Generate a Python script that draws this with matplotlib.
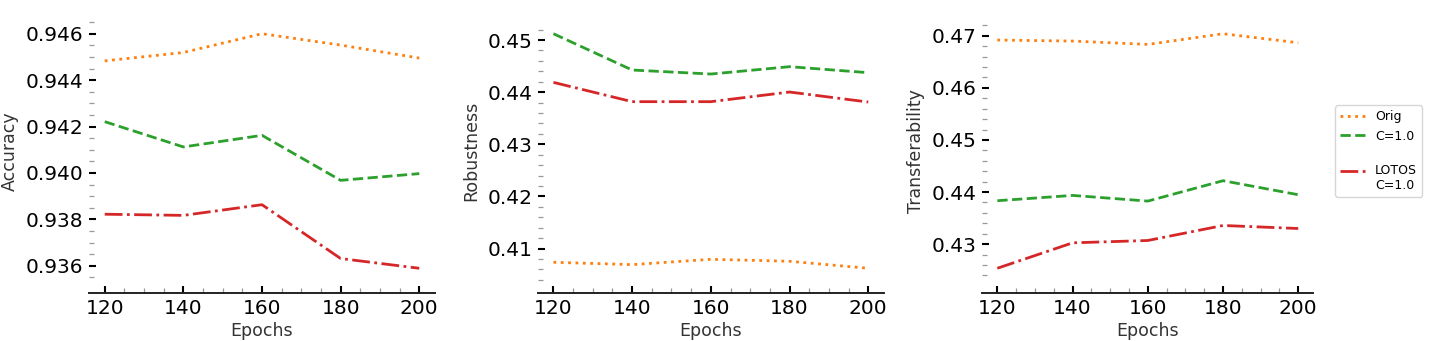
import matplotlib
matplotlib.use("Agg")
import matplotlib.pyplot as plt
from matplotlib.ticker import MultipleLocator, FormatStrFormatter

epochs = [120, 140, 160, 180, 200]

acc_orig = [0.94483, 0.94519, 0.94600, 0.94551, 0.94495]
acc_c = [0.94221, 0.94112, 0.94162, 0.93968, 0.93997]
acc_lotos = [0.93822, 0.93817, 0.93863, 0.93631, 0.93589]

rob_orig = [0.40738, 0.40693, 0.40795, 0.40757, 0.40623]
rob_c = [0.45121, 0.44425, 0.44348, 0.44489, 0.44374]
rob_lotos = [0.44188, 0.43818, 0.43818, 0.44003, 0.43811]

tra_orig = [0.46917, 0.46897, 0.46833, 0.47038, 0.46865]
tra_c = [0.43834, 0.43936, 0.43827, 0.44218, 0.43949]
tra_lotos = [0.42538, 0.43026, 0.43071, 0.43359, 0.43301]

labels = ["Orig", "C=1.0", "\nLOTOS\nC=1.0"]
ylabels = ["Accuracy", "Robustness", "Transferability"]
xlabel = "Epochs"

colors = ["#ff7f0e", "#2ca02c", "#d62728"]
styles = [":", "--", "-."]

W, H = 1436, 341
fig = plt.figure(figsize=(W / 100, H / 100), dpi=100)

# axes rectangles in pixels: left, right
rects = [(89, 435), (537.7, 884), (982.3, 1313.3)]
top_px, bot_px = 22, 280

panels = [
    (acc_orig, acc_c, acc_lotos, 0.002, 0.0005, "%.3f"),
    (rob_orig, rob_c, rob_lotos, 0.01, 0.002, "%.2f"),
    (tra_orig, tra_c, tra_lotos, 0.01, 0.002, "%.2f"),
]

axes = []
for i, ((l, r), (o, c, lo, maj, mnr, fmt)) in enumerate(zip(rects, panels)):
    ax = fig.add_axes([l / W, (H - bot_px) / H, (r - l) / W, (bot_px - top_px) / H])
    for series, col, ls, lab in zip([o, c, lo], colors, styles, labels):
        ax.plot(epochs, series, color=col, linestyle=ls, linewidth=2, label=lab)
    ax.set_facecolor("white")
    for s in ["top", "right", "left"]:
        ax.spines[s].set_visible(False)
    ax.spines["bottom"].set_position(("outward", 9.4))
    ax.spines["bottom"].set_linewidth(1.4)
    ax.spines["bottom"].set_color("#222222")
    ax.xaxis.set_major_locator(MultipleLocator(20))
    ax.xaxis.set_minor_locator(MultipleLocator(5))
    ax.yaxis.set_major_locator(MultipleLocator(maj))
    ax.yaxis.set_minor_locator(MultipleLocator(mnr))
    ax.yaxis.set_major_formatter(FormatStrFormatter(fmt))
    ax.tick_params(which="major", direction="in", length=5.3, width=1.5,
                   color="black", labelsize=14.5, labelcolor="black", pad=4)
    ax.tick_params(which="minor", direction="in", length=3.6, width=0.9,
                   color="#999999")
    ax.set_xlabel(xlabel, fontsize=12.5, color="#333333", labelpad=3)
    ax.set_ylabel(ylabels[i], fontsize=12.5, color="#333333", labelpad=5)
    axes.append(ax)

handles, labs = axes[2].get_legend_handles_labels()
leg = fig.legend(handles, labs, loc="center left",
                 bbox_to_anchor=(1335 / W, 1 - 151 / H),
                 bbox_transform=fig.transFigure, borderaxespad=0,
                 fontsize=9, frameon=True, fancybox=True)
leg.get_frame().set_edgecolor("#cccccc")

fig.savefig("out.png", dpi=100, facecolor="white")
